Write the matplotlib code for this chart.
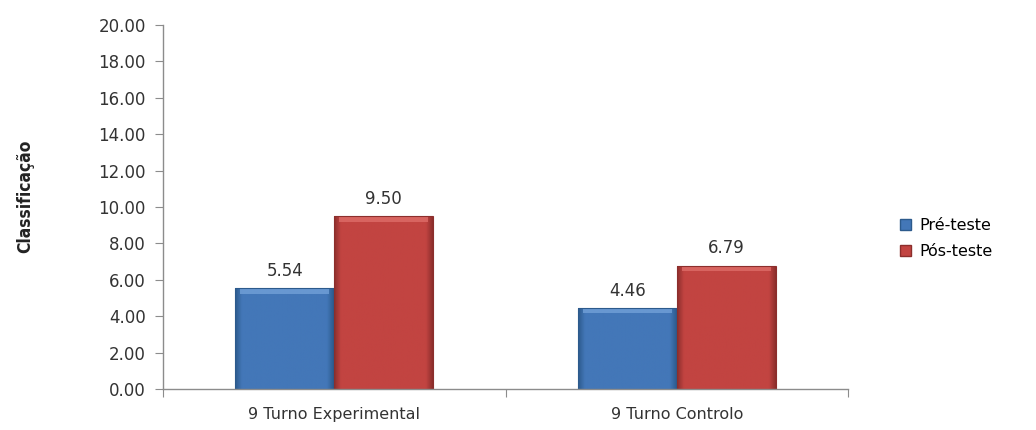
import numpy as np
import matplotlib
matplotlib.use("Agg")
import matplotlib.pyplot as plt
from matplotlib.patches import Patch
from matplotlib.colors import LinearSegmentedColormap

categories = ["9 Turno Experimental", "9 Turno Controlo"]
series_names = ["Pré-teste", "Pós-teste"]
pre_values = [5.54, 4.46]
post_values = [9.50, 6.79]
y_ticks = [0, 2, 4, 6, 8, 10, 12, 14, 16, 18, 20]

colors = ["#4377B8", "#C24441"]
dark = ["#2C5A8C", "#8C2E2C"]
light = ["#6F9ED6", "#DC6A66"]

fig = plt.figure(figsize=(10.36, 4.3), dpi=100)
ax = fig.add_axes([0.157, 0.095, 0.662, 0.847])

x = np.arange(len(categories))
width = 0.288


def shaded_bar(ax, xc, h, w, base, edge, hi):
    # mostly flat fill with darker bevelled sides and a light top edge
    cmap = LinearSegmentedColormap.from_list(
        "g", [(0, edge), (0.07, base), (0.93, base), (1, edge)])
    grad = np.linspace(0, 1, 256).reshape(1, -1)
    x0 = xc - w / 2
    bar = ax.bar(xc, h, w, color=base, edgecolor="none", zorder=2)[0]
    im = ax.imshow(grad, extent=[x0, x0 + w, 0, h], aspect="auto",
                   cmap=cmap, zorder=2.1)
    im.set_clip_path(bar)
    ax.add_patch(plt.Rectangle((x0 + w * 0.05, h - 0.3), w * 0.9, 0.27,
                               facecolor=hi, edgecolor="none", alpha=0.85,
                               zorder=2.2))
    ax.add_patch(plt.Rectangle((x0, 0), w, h, facecolor="none",
                               edgecolor=edge, linewidth=0.8, zorder=2.3))


for i in range(len(categories)):
    shaded_bar(ax, x[i] - width / 2, pre_values[i], width,
               colors[0], dark[0], light[0])
    shaded_bar(ax, x[i] + width / 2, post_values[i], width,
               colors[1], dark[1], light[1])
    ax.text(x[i] - width / 2, pre_values[i] + 0.45, f"{pre_values[i]:.2f}",
            ha="center", va="bottom", fontsize=12, color="#333333")
    ax.text(x[i] + width / 2, post_values[i] + 0.45, f"{post_values[i]:.2f}",
            ha="center", va="bottom", fontsize=12, color="#333333")

ax.set_xlim(-0.5, len(categories) - 0.5)
ax.set_ylim(0, 20)
ax.set_yticks(y_ticks)
ax.set_yticklabels([f"{v:.2f}" for v in y_ticks], fontsize=12, color="#333333")

ax.set_xticks([-0.5, 0.5, 1.5])
ax.set_xticklabels([])
ax.set_xticks(x, minor=True)
ax.set_xticklabels(categories, minor=True, fontsize=11.5, color="#333333")
ax.tick_params(axis="x", which="minor", length=0, pad=13)
ax.tick_params(axis="x", which="major", length=6, color="#8C8C8C", direction="out")
ax.tick_params(axis="y", length=6, color="#8C8C8C", direction="out", pad=6)

for side in ["top", "right"]:
    ax.spines[side].set_visible(False)
for side in ["left", "bottom"]:
    ax.spines[side].set_color("#8C8C8C")
    ax.spines[side].set_linewidth(1.0)

ax.set_ylabel("Classificação", fontsize=12.5, fontweight="bold",
              fontstretch="condensed", family="DejaVu Sans", color="#222222")
ax.yaxis.set_label_coords(-0.187, 0.53)

handles = [Patch(facecolor=colors[0], edgecolor=dark[0]),
           Patch(facecolor=colors[1], edgecolor=dark[1])]
fig.legend(handles, series_names, loc="center left",
           bbox_to_anchor=(0.855, 0.445), frameon=False, fontsize=11.5,
           handlelength=0.7, handleheight=0.7, handletextpad=0.5,
           labelspacing=0.7)

fig.savefig("out.png", dpi=100, facecolor="white")
